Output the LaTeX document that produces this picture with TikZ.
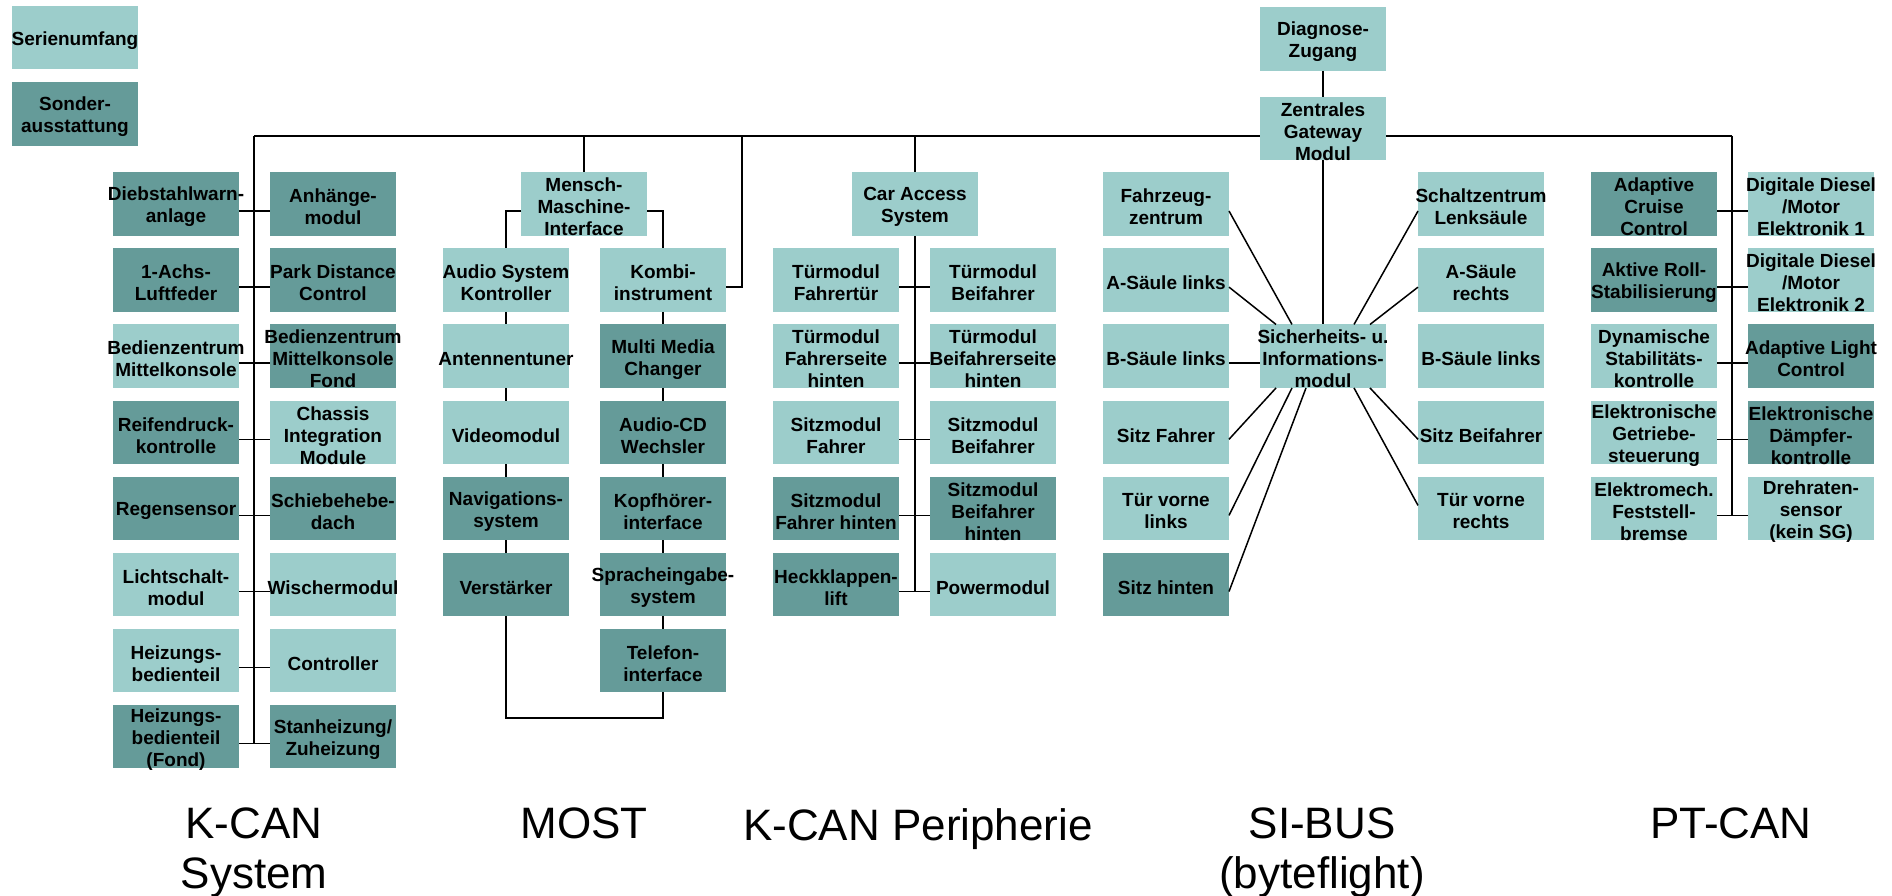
\documentclass[tikz,border=0pt]{standalone}
\usepackage{fontspec}
\setmainfont{Liberation Sans}
\usepackage{tikz}

\definecolor{seriencol}{HTML}{9CCDCB}
\definecolor{sondercol}{HTML}{659B99}

\newcommand{\boxfont}{\fontsize{19}{22}\selectfont\bfseries}
\newcommand{\titlefont}{\fontsize{44}{50}\selectfont}

\tikzset{
  ecu/.style={minimum width=126pt, minimum height=63.5pt, inner sep=0pt, outer sep=0pt},
  serienbox/.style={ecu, fill=seriencol},
  sonderbox/.style={ecu, fill=sondercol},
  every label/.style={font=\boxfont, align=center, inner sep=0pt, yshift=-3pt},
  lo/.style={yshift=-7pt},
  bus/.style={line width=2pt},
  wire/.style={line width=1.5pt},
  busname/.style={font=\titlefont, align=center, inner sep=0pt, anchor=north}
}

\begin{document}
\begin{tikzpicture}[x=1pt,y=-1pt]

\useasboundingbox (0,0) rectangle (1892,895);

% legend
\node[serienbox, label=center:{Serienumfang}] (serie) at (75,37.5) {};
\node[sonderbox, label=center:{Sonder-\\ausstattung}] (sonder) at (75,114) {};

% gateway
\node[serienbox, label=center:{Diagnose-\\Zugang}] (diag) at (1323,39) {};
\node[serienbox, label=center:{Zentrales\\Gateway\\Modul}] (gw) at (1323,128.5) {};

% K-CAN System
\node[sonderbox, label=center:{Diebstahlwarn-\\anlage}] (kl0) at (176,204) {};
\node[sonderbox, label=center:{1-Achs-\\Luftfeder}] (kl1) at (176,280.1) {};
\node[serienbox, label=center:{Bedienzentrum\\Mittelkonsole}] (kl2) at (176,356.2) {};
\node[sonderbox, label=center:{Reifendruck-\\kontrolle}] (kl3) at (176,432.3) {};
\node[sonderbox, label=center:{Regensensor}] (kl4) at (176,508.4) {};
\node[serienbox, label=center:{Lichtschalt-\\modul}] (kl5) at (176,584.5) {};
\node[serienbox, label=center:{Heizungs-\\bedienteil}] (kl6) at (176,660.6) {};
\node[sonderbox, label=center:{Heizungs-\\bedienteil\\(Fond)}] (kl7) at (176,736.7) {};

\node[sonderbox, label=center:{Anhänge-\\modul}] (kr0) at (333,204) {};
\node[sonderbox, label=center:{Park Distance\\Control}] (kr1) at (333,280.1) {};
\node[sonderbox, label=center:{Bedienzentrum\\Mittelkonsole\\Fond}] (kr2) at (333,356.2) {};
\node[serienbox, label=center:{Chassis\\Integration\\Module}] (kr3) at (333,432.3) {};
\node[sonderbox, label=center:{Schiebehebe-\\dach}] (kr4) at (333,508.4) {};
\node[serienbox, label=center:{Wischermodul}] (kr5) at (333,584.5) {};
\node[serienbox, label=center:{Controller}] (kr6) at (333,660.6) {};
\node[sonderbox, label=center:{Stanheizung/\\Zuheizung}] (kr7) at (333,736.7) {};

% MOST
\node[serienbox, label=center:{Mensch-\\Maschine-\\Interface}] (mmi) at (584,204) {};
\node[serienbox, label=center:{Audio System\\Kontroller}] (ml1) at (506,280.1) {};
\node[serienbox, label=center:{Antennentuner}] (ml2) at (506,356.2) {};
\node[serienbox, label=center:{Videomodul}] (ml3) at (506,432.3) {};
\node[sonderbox, label=center:{Navigations-\\system}] (ml4) at (506,508.4) {};
\node[sonderbox, label=center:{Verstärker}] (ml5) at (506,584.5) {};
\node[serienbox, label=center:{Kombi-\\instrument}] (mr1) at (663,280.1) {};
\node[sonderbox, label=center:{Multi Media\\Changer}] (mr2) at (663,356.2) {};
\node[sonderbox, label=center:{Audio-CD\\Wechsler}] (mr3) at (663,432.3) {};
\node[sonderbox, label=center:{Kopfhörer-\\interface}] (mr4) at (663,508.4) {};
\node[sonderbox, label=center:{Spracheingabe-\\system}] (mr5) at (663,584.5) {};
\node[sonderbox, label=center:{Telefon-\\interface}] (mr6) at (663,660.6) {};

% K-CAN Peripherie
\node[serienbox, label=center:{Car Access\\System}] (cas) at (915,204) {};
\node[serienbox, label=center:{Türmodul\\Fahrertür}] (pl1) at (836,280.1) {};
\node[serienbox, label=center:{Türmodul\\Fahrerseite\\hinten}] (pl2) at (836,356.2) {};
\node[serienbox, label=center:{Sitzmodul\\Fahrer}] (pl3) at (836,432.3) {};
\node[sonderbox, label=center:{Sitzmodul\\Fahrer hinten}] (pl4) at (836,508.4) {};
\node[sonderbox, label=center:{Heckklappen-\\lift}] (pl5) at (836,584.5) {};
\node[serienbox, label=center:{Türmodul\\Beifahrer}] (pr1) at (993,280.1) {};
\node[serienbox, label=center:{Türmodul\\Beifahrerseite\\hinten}] (pr2) at (993,356.2) {};
\node[serienbox, label=center:{Sitzmodul\\Beifahrer}] (pr3) at (993,432.3) {};
\node[sonderbox, label=center:{Sitzmodul\\Beifahrer\\hinten}] (pr4) at (993,508.4) {};
\node[serienbox, label=center:{Powermodul}] (pr5) at (993,584.5) {};

% SI-BUS
\node[serienbox, label=center:{Sicherheits- u.\\Informations-\\modul}] (sim) at (1323,356.2) {};
\node[serienbox, label=center:{Fahrzeug-\\zentrum}] (sl0) at (1166,204) {};
\node[serienbox, label=center:{A-Säule links}] (sl1) at (1166,280.1) {};
\node[serienbox, label=center:{B-Säule links}] (sl2) at (1166,356.2) {};
\node[serienbox, label=center:{Sitz Fahrer}] (sl3) at (1166,432.3) {};
\node[serienbox, label=center:{Tür vorne\\links}] (sl4) at (1166,508.4) {};
\node[sonderbox, label=center:{Sitz hinten}] (sl5) at (1166,584.5) {};
\node[serienbox, label=center:{Schaltzentrum\\Lenksäule}] (sr0) at (1481,204) {};
\node[serienbox, label=center:{A-Säule\\rechts}] (sr1) at (1481,280.1) {};
\node[serienbox, label=center:{B-Säule links}] (sr2) at (1481,356.2) {};
\node[serienbox, label=center:{Sitz Beifahrer}] (sr3) at (1481,432.3) {};
\node[serienbox, label=center:{Tür vorne\\rechts}] (sr4) at (1481,508.4) {};

% PT-CAN
\node[sonderbox, label=center:{Adaptive\\Cruise\\Control}] (tl0) at (1654,204) {};
\node[sonderbox, label=center:{Aktive Roll-\\Stabilisierung}] (tl1) at (1654,280.1) {};
\node[serienbox, label=center:{Dynamische\\Stabilitäts-\\kontrolle}] (tl2) at (1654,356.2) {};
\node[serienbox, label=center:{Elektronische\\Getriebe-\\steuerung}] (tl3) at (1654,432.3) {};
\node[serienbox, label=center:{Elektromech.\\Feststell-\\bremse}] (tl4) at (1654,508.4) {};
\node[serienbox, label=center:{Digitale Diesel\\/Motor\\Elektronik 1}] (tr0) at (1811,204) {};
\node[serienbox, label=center:{Digitale Diesel\\/Motor\\Elektronik 2}] (tr1) at (1811,280.1) {};
\node[sonderbox, label=center:{Adaptive Light\\Control}] (tr2) at (1811,356.2) {};
\node[sonderbox, label=center:{Elektronische\\Dämpfer-\\kontrolle}] (tr3) at (1811,432.3) {};
\node[serienbox, label=center:{Drehraten-\\sensor\\(kein SG)}] (tr4) at (1811,508.4) {};

% bus points
\coordinate (kcan) at (254,135.5);
\coordinate (most) at (584,135.5);
\coordinate (kombibus) at (742,135.5);
\coordinate (periph) at (915,135.5);
\coordinate (ptcan) at (1732,135.5);
\coordinate (kcanend) at (254,743.7);
\coordinate (periphend) at (915,591.5);
\coordinate (ptend) at (1732,515.4);
\coordinate (mostloop) at (584,718);

% main bus
\draw[bus] (kcan) -- ([lo]gw.west);
\draw[bus] ([lo]gw.east) -- (ptcan);
\draw[wire] (diag.south) -- (gw.north);

% K-CAN System lines
\draw[wire] (kcan) -- (kcanend);
\draw[wire] ([lo]kl0.east) -- ([lo]kr0.west);
\draw[wire] ([lo]kl1.east) -- ([lo]kr1.west);
\draw[wire] ([lo]kl2.east) -- ([lo]kr2.west);
\draw[wire] ([lo]kl3.east) -- ([lo]kr3.west);
\draw[wire] ([lo]kl4.east) -- ([lo]kr4.west);
\draw[wire] ([lo]kl5.east) -- ([lo]kr5.west);
\draw[wire] ([lo]kl6.east) -- ([lo]kr6.west);
\draw[wire] ([lo]kl7.east) -- ([lo]kr7.west);

% MOST ring
\draw[wire] (most) -- (mmi.north);
\draw[wire] ([lo]mmi.west) -| (ml1.north);
\draw[wire] ([lo]mmi.east) -| (mr1.north);
\draw[wire] ([lo]mr1.east) -| (kombibus);
\draw[wire] (ml1.south) -- (ml2.north);
\draw[wire] (ml2.south) -- (ml3.north);
\draw[wire] (ml3.south) -- (ml4.north);
\draw[wire] (ml4.south) -- (ml5.north);
\draw[wire] (mr1.south) -- (mr2.north);
\draw[wire] (mr2.south) -- (mr3.north);
\draw[wire] (mr3.south) -- (mr4.north);
\draw[wire] (mr4.south) -- (mr5.north);
\draw[wire] (mr5.south) -- (mr6.north);
\draw[wire] (ml5.south) -- (ml5.south |- mostloop) -- (mr6.south |- mostloop) -- (mr6.south);

% K-CAN Peripherie lines
\draw[wire] (periph) -- (cas.north);
\draw[wire] (cas.south) -- (periphend);
\draw[wire] ([lo]pl1.east) -- ([lo]pr1.west);
\draw[wire] ([lo]pl2.east) -- ([lo]pr2.west);
\draw[wire] ([lo]pl3.east) -- ([lo]pr3.west);
\draw[wire] ([lo]pl4.east) -- ([lo]pr4.west);
\draw[wire] ([lo]pl5.east) -- ([lo]pr5.west);

% SI-BUS star
\draw[wire] (gw.south) -- (sim.north);
\draw[wire] ([lo]sl0.east) -- ([xshift=-31pt]sim.north);
\draw[wire] ([lo]sl1.east) -- ([xshift=-47pt]sim.north);
\draw[wire] ([lo]sl2.east) -- ([lo]sim.west);
\draw[wire] ([lo]sl3.east) -- ([xshift=-47pt]sim.south);
\draw[wire] ([lo]sl4.east) -- ([xshift=-31pt]sim.south);
\draw[wire] ([lo]sl5.east) -- ([xshift=-17pt]sim.south);
\draw[wire] ([lo]sr0.west) -- ([xshift=31pt]sim.north);
\draw[wire] ([lo]sr1.west) -- ([xshift=47pt]sim.north);
\draw[wire] ([lo]sr3.west) -- ([xshift=47pt]sim.south);
\draw[wire] ([yshift=3pt]sr4.west) -- ([xshift=31pt]sim.south);

% PT-CAN lines
\draw[wire] (ptcan) -- (ptend);
\draw[wire] ([lo]tl0.east) -- ([lo]tr0.west);
\draw[wire] ([lo]tl1.east) -- ([lo]tr1.west);
\draw[wire] ([lo]tl2.east) -- ([lo]tr2.west);
\draw[wire] ([lo]tl3.east) -- ([lo]tr3.west);
\draw[wire] ([lo]tl4.east) -- ([lo]tr4.west);

% bus names
\node[busname] (kcanname) at (254,808) {K-CAN\\System};
\node[busname] (mostname) at (584,808) {MOST};
\node[busname] (periphname) at (918,808) {K-CAN Peripherie};
\node[busname] (siname) at (1322,808) {SI-BUS\\(byteflight)};
\node[busname] (ptname) at (1731,808) {PT-CAN};

\end{tikzpicture}
\end{document}
